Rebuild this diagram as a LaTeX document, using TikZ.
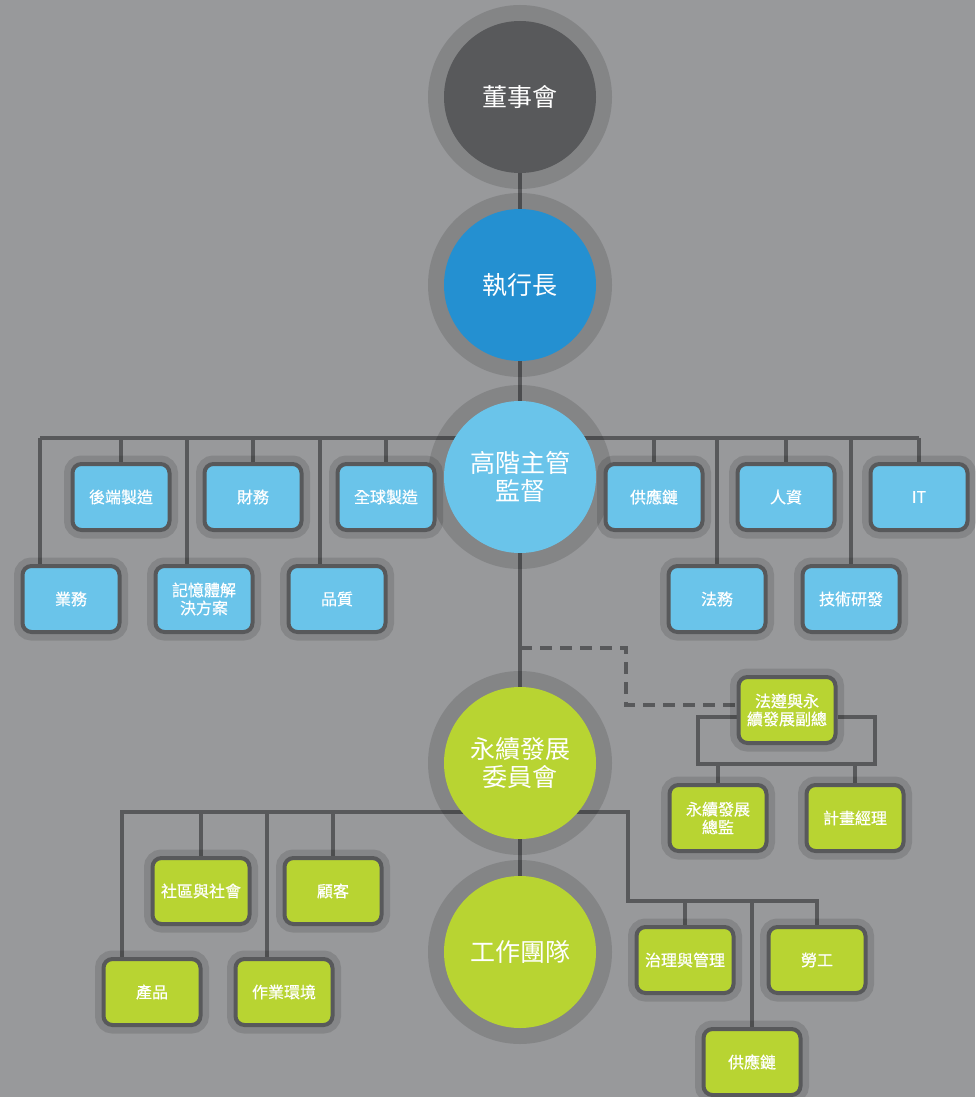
\documentclass[tikz,border=0pt]{standalone}
\usepackage{fontspec}
\newfontfamily\cjk{Noto Sans CJK TC}
\newfontfamily\cjkb[FakeBold=0.6]{Noto Sans CJK TC}
\usetikzlibrary{backgrounds}
\pgfdeclarelayer{canvas}
\pgfsetlayers{canvas,background,main}
\definecolor{bg}{HTML}{98999B}
\definecolor{dk}{HTML}{58595B}
\definecolor{ceo}{HTML}{2490D1}
\definecolor{lb}{HTML}{6AC4EA}
\definecolor{gr}{HTML}{B8D432}
\tikzset{
  circ/.style={circle, minimum size=152pt, inner sep=0pt, text=white, align=center,
    font=\cjk\fontsize{25}{28}\selectfont,
    preaction={draw=black, draw opacity=.13, line width=32pt, fill=none}},
  orgbox/.style={draw=dk, line width=4pt, rounded corners=9pt, minimum width=97pt,
    minimum height=66pt, inner sep=0pt, text=white, align=center,
    font=\cjkb\fontsize{16}{18}\selectfont,
    preaction={draw=black, draw opacity=.12, line width=17pt, fill=none}},
  bbox/.style={orgbox, fill=lb},
  gbox/.style={orgbox, fill=gr},
  conn/.style={draw=dk, line width=4pt},
  dconn/.style={draw=dk, line width=4pt, dash pattern=on 12pt off 8pt}
}
\begin{document}
\begin{tikzpicture}[x=1pt,y=-1pt]
\begin{pgfonlayer}{canvas}
\fill[bg] (0,0) rectangle (975,1097);
\end{pgfonlayer}
\useasboundingbox (0,0) rectangle (975,1097);

% circles
\node[circ, fill=dk] (bod) at (520,97) {董事會};
\node[circ, fill=ceo] (ceo) at (520,285) {執行長};
\node[circ, fill=lb] (gm) at (520,477) {高階主管\\監督};
\node[circ, fill=gr] (sc) at (520,763) {永續發展\\委員會};
\node[circ, fill=gr] (team) at (520,952) {工作團隊};

% top blue row
\node[bbox] (bm) at (121,497) {後端製造};
\node[bbox] (fin) at (253,497) {財務};
\node[bbox] (gmf) at (386,497) {全球製造};
\node[bbox] (sup) at (654,497) {供應鏈};
\node[bbox] (hr) at (786,497) {人資};
\node[bbox] (it) at (919,497) {IT};
% bottom blue row
\node[bbox] (biz) at (71,599) {業務};
\node[bbox] (mem) at (204,599) {記憶體解\\決方案};
\node[bbox] (qa) at (337,599) {品質};
\node[bbox] (law) at (717,599) {法務};
\node[bbox] (rd) at (851,599) {技術研發};

% green boxes
\node[gbox] (vp) at (787,710) {法遵與永\\續發展副總};
\node[gbox] (sd) at (718,818) {永續發展\\總監};
\node[gbox] (pm) at (855,818) {計畫經理};
\node[gbox] (comm) at (201,891) {社區與社會};
\node[gbox] (cust) at (333,891) {顧客};
\node[gbox] (prod) at (152,992) {產品};
\node[gbox] (env) at (284,992) {作業環境};
\node[gbox] (gov) at (685,960) {治理與管理};
\node[gbox] (lab) at (817,960) {勞工};
\node[gbox] (sc2) at (752,1062) {供應鏈};

\begin{scope}[on background layer]
\coordinate (tbL) at (40,438);
\coordinate (tbR) at (919,438);
\draw[conn] (bod) -- (team);
\draw[conn] (tbL) -- (tbR);
\draw[conn] (biz.north -| tbL) -- (tbL);
\foreach \b in {bm,fin,gmf,sup,hr,it,law,rd}
  \draw[conn] (\b.north) -- (\b.north |- tbL);
\draw[conn] ([xshift=-17pt]mem.north) -- ([xshift=-17pt]mem.north |- tbL);
\draw[conn] ([xshift=-17pt]qa.north) -- ([xshift=-17pt]qa.north |- tbL);

% dashed link
\coordinate (dA) at (520,648);
\coordinate (dB) at (626,648);
\draw[dconn] (dA) -- (dB) |- ([yshift=5pt]vp.west);

% vp bracket
\coordinate (vL1) at (698,717);
\coordinate (vL2) at (698,764);
\coordinate (vR2) at (875,764);
\coordinate (vR1) at (875,717);
\draw[conn, line join=miter] ([yshift=-7pt]vp.west) -- (vL1) -- (vL2) -- (vR2) -- (vR1) -- ([yshift=-7pt]vp.east);
\draw[conn] (sd.north) -- (sd.north |- vL2);
\draw[conn] (pm.north) -- (pm.north |- vL2);

% green tree
\coordinate (gL) at (122,812);
\coordinate (gR) at (628,812);
\coordinate (gD) at (628,901);
\coordinate (gE) at (817,901);
\draw[conn] (prod.north -| gL) -- (gL) -- (gR) -- (gD) -- (gE) -- (lab.north);
\draw[conn] (comm.north) -- (comm.north |- gL);
\draw[conn] (cust.north) -- (cust.north |- gL);
\draw[conn] ([xshift=-17pt]env.north) -- ([xshift=-17pt]env.north |- gL);
\draw[conn] (gov.north) -- (gov.north |- gD);
\draw[conn] (sc2.north) -- (sc2.north |- gD);
\end{scope}
\end{tikzpicture}
\end{document}
